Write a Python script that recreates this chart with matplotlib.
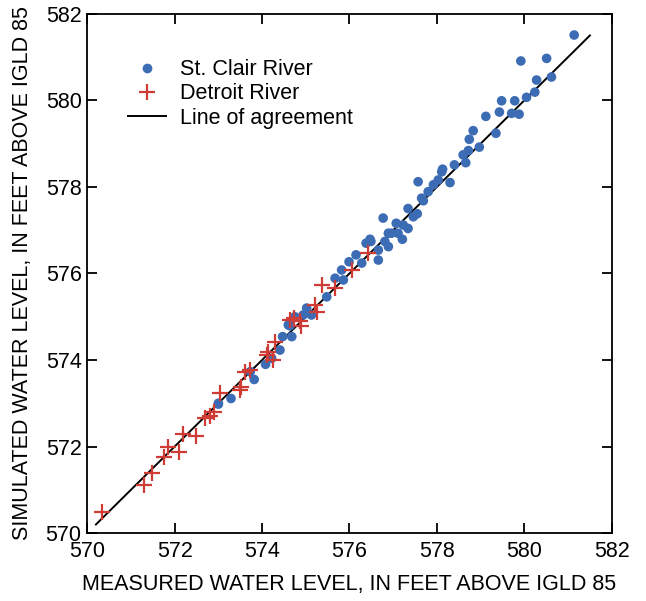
import matplotlib.pyplot as plt
from matplotlib.lines import Line2D

plt.rcParams['font.family'] = ['Liberation Sans', 'DejaVu Sans']

# St. Clair River: measured, simulated (ft above IGLD 85)
stclair_meas = [573.0, 573.0, 573.29, 573.73, 573.82, 574.08, 574.22, 574.41, 574.47,
                574.68, 574.64, 574.75, 574.6, 574.94, 575.02, 575.13, 575.48, 575.67,
                575.86, 575.82, 575.99, 576.15, 576.28, 576.38, 576.49, 576.66, 576.66,
                576.77, 576.81, 576.89, 576.89, 576.47, 576.96, 577.07, 577.11, 577.23,
                577.34, 577.21, 577.34, 577.46, 577.55, 577.65, 577.69, 577.57, 577.8,
                577.92, 578.03, 578.11, 578.13, 578.3, 578.4, 578.6, 578.66, 578.72,
                578.74, 578.83, 578.97, 579.12, 579.35, 579.43, 579.48, 579.71, 579.78,
                579.88, 579.92, 580.05, 580.24, 580.28, 580.51, 580.62, 581.14]
stclair_sim = [572.98, 573.0, 573.11, 573.73, 573.55, 573.9, 574.04, 574.23, 574.54,
               574.54, 574.79, 575.0, 574.81, 575.04, 575.2, 575.04, 575.46, 575.89,
               575.85, 576.08, 576.27, 576.43, 576.24, 576.7, 576.74, 576.31, 576.54,
               577.28, 576.74, 576.62, 576.93, 576.79, 576.93, 577.16, 576.93, 577.12,
               577.04, 576.79, 577.5, 577.31, 577.38, 577.74, 577.68, 578.12, 577.89,
               578.05, 578.16, 578.35, 578.41, 578.1, 578.51, 578.74, 578.56, 578.84,
               579.1, 579.3, 578.92, 579.63, 579.24, 579.73, 579.99, 579.7, 579.99,
               579.68, 580.91, 580.07, 580.19, 580.47, 580.97, 580.54, 581.51]

# Detroit River: measured, simulated
detroit_meas = [570.34, 571.29, 571.48, 571.76, 571.84, 572.11, 572.19, 572.5, 572.7,
                572.8, 572.9, 573.04, 573.5, 573.52, 573.61, 573.73, 574.11, 574.14,
                574.3, 574.25, 574.72, 574.64, 574.87, 574.9, 575.21, 575.25, 575.36,
                575.67, 576.05, 576.43]
detroit_sim = [570.49, 571.11, 571.38, 571.76, 572.0, 571.87, 572.28, 572.25, 572.65,
               572.7, 572.8, 573.23, 573.3, 573.38, 573.73, 573.77, 574.12, 574.19,
               574.42, 574.0, 574.96, 574.92, 574.89, 574.79, 575.27, 575.12, 575.73,
               575.66, 576.08, 576.47]

agree = [570.2, 581.5]

blue = '#3b6cb4'
red = '#cf3b35'
fs = 15.5

fig = plt.figure(figsize=(6.46, 6.01), dpi=100)
ax = fig.add_axes([0.135, 0.113, 0.812, 0.864])

ax.plot(agree, agree, color='black', lw=1.4, zorder=1)
ax.scatter(stclair_meas, stclair_sim, s=48, color=blue, edgecolors='none', zorder=2)
ax.plot(detroit_meas, detroit_sim, ls='none', marker='+', ms=12, mew=1.6,
        color=red, zorder=3)

ax.set_xlim(570, 582)
ax.set_ylim(570, 582)
ax.set_xticks(range(570, 583, 2))
ax.set_yticks(range(570, 583, 2))
ax.tick_params(direction='in', length=7, width=1.3, top=True, right=True,
               labelsize=fs, pad=4)
ax.tick_params(axis='x', pad=6)
for s in ax.spines.values():
    s.set_linewidth(1.3)

ax.set_xlabel('MEASURED WATER LEVEL, IN FEET ABOVE IGLD 85', fontsize=fs, labelpad=8)
ax.set_ylabel('SIMULATED WATER LEVEL, IN FEET ABOVE IGLD 85', fontsize=fs)
ax.yaxis.set_label_coords(-0.103, 0.5)

handles = [
    Line2D([], [], ls='none', marker='o', ms=7, color=blue, mec='none'),
    Line2D([], [], ls='none', marker='+', ms=12, mew=1.6, color=red),
    Line2D([], [], color='black', lw=1.4),
]
ax.legend(handles, ['St. Clair River', 'Detroit River', 'Line of agreement'],
          loc='upper left', bbox_to_anchor=(0.04, 0.95), frameon=False,
          fontsize=fs, handlelength=1.8, labelspacing=0.15, handletextpad=0.65)

fig.savefig('out.png', dpi=100)
